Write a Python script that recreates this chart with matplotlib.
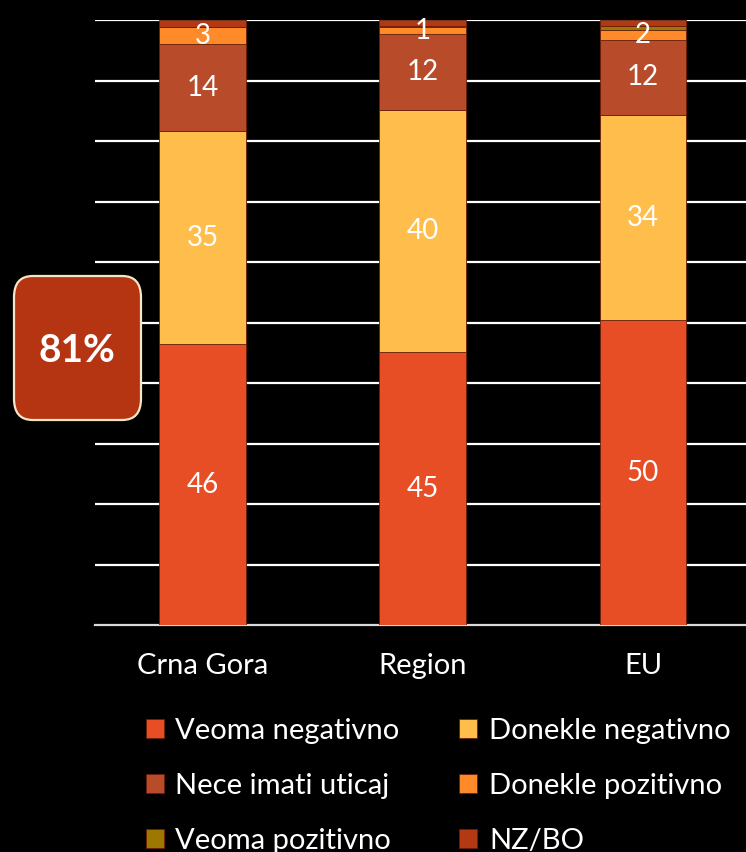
import matplotlib
matplotlib.use('Agg')
import matplotlib.pyplot as plt
from matplotlib.patches import FancyBboxPatch
import numpy as np

plt.rcParams['font.family'] = ['Lato', 'DejaVu Sans']

# ── data ─────────────────────────────────────────────────────────────────────
categories = ['Crna Gora', 'Region', 'EU']
series = ['Veoma negativno', 'Donekle negativno', 'Nece imati uticaj',
          'Donekle pozitivno', 'Veoma pozitivno', 'NZ/BO']
veoma_negativno = [46.4, 45.1, 50.4]
donekle_negativno = [35.2, 40.0, 33.9]
nece_imati_uticaj = [14.4, 12.6, 12.4]
donekle_pozitivno = [2.8, 1.1, 1.7]
veoma_pozitivno = [0.0, 0.2, 0.6]
nz_bo = [1.2, 1.0, 1.0]
shown_labels = [[46, 45, 50], [35, 40, 34], [14, 12, 12], [3, 1, 2]]
highlight = '81%'

colors = ['#E84E25', '#FFBE4C', '#B84C2A', '#FF8A2A', '#9E7700', '#B33814']
values = [veoma_negativno, donekle_negativno, nece_imati_uticaj,
          donekle_pozitivno, veoma_pozitivno, nz_bo]

BG = 'black'
FG = 'white'

fig = plt.figure(figsize=(7.46, 8.52), dpi=100)
fig.patch.set_facecolor(BG)
ax = fig.add_axes([95 / 746, 1 - 625 / 852, 651 / 746, 605 / 852])
ax.set_facecolor(BG)

x = np.arange(len(categories))
bottom = np.zeros(len(categories))
bars = []
for i, (name, vals) in enumerate(zip(series, values)):
    b = ax.bar(x, vals, bottom=bottom, width=0.395, color=colors[i],
               edgecolor='#6a2008', linewidth=0.6, label=name, zorder=3)
    bars.append(b)
    if i < len(shown_labels):
        for j, v in enumerate(vals):
            ax.text(x[j], bottom[j] + v / 2, str(shown_labels[i][j]),
                    ha='center', va='center', color=FG, fontsize=20, zorder=4)
    bottom += np.array(vals)

ax.set_ylim(0, 100)
ax.set_xlim(-0.49, 2.468)
ax.set_yticks(np.arange(10, 101, 10))
ax.yaxis.grid(True, color='white', linewidth=1.6, zorder=1)
ax.set_yticklabels([])
ax.tick_params(axis='y', length=0)
ax.tick_params(axis='x', length=0, pad=20, colors=FG, labelsize=21)
ax.set_xticks(x)
ax.set_xticklabels(categories)
for s in ('top', 'right', 'left'):
    ax.spines[s].set_visible(False)
ax.spines['bottom'].set_color('#d9d9d9')
ax.spines['bottom'].set_linewidth(1.6)

# rounded callout box
box = FancyBboxPatch((14 / 746, 1 - 420 / 852), 127 / 746, 144 / 852,
                     boxstyle='round,pad=0,rounding_size=0.025',
                     transform=fig.transFigure, facecolor='#B53513',
                     edgecolor='#F5E6C8', linewidth=1.6, zorder=5)
fig.add_artist(box)
fig.text(77 / 746, 1 - 350 / 852, highlight, ha='center', va='center',
         color=FG, fontsize=28, fontweight='bold', zorder=6)

# legend, row-major order
order = [0, 2, 4, 1, 3, 5]
handles = [bars[k] for k in order]
labels = [series[k] for k in order]
leg = fig.legend(handles, labels, ncol=2, loc='upper left',
                 bbox_to_anchor=(134 / 746, 1 - 706 / 852),
                 frameon=False, fontsize=21, labelcolor=FG,
                 handlelength=0.62, handleheight=0.62, handletextpad=0.4,
                 columnspacing=2.04, labelspacing=1.0, borderaxespad=0)

fig.savefig('out.png', dpi=100, facecolor=BG)
